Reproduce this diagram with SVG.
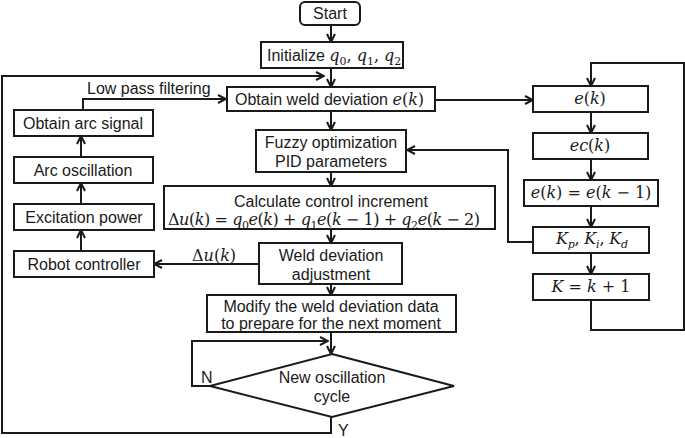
<svg xmlns="http://www.w3.org/2000/svg" width="685" height="438" viewBox="0 0 685 438">
<style>
.b{fill:#fff;stroke:#1a1a1a;stroke-width:2}
.l{fill:none;stroke:#1a1a1a;stroke-width:2}
.t{font-family:"Liberation Sans",Arial,sans-serif;font-size:16px;fill:#1a1a1a;text-anchor:middle}
.ts{font-family:"Liberation Sans",Arial,sans-serif;font-size:16px;fill:#1a1a1a}
.m{font-family:"DejaVu Serif","Liberation Serif",serif;font-size:16px;fill:#1a1a1a}
.i{font-style:italic}
.s{font-size:11px;font-style:normal}
.si{font-size:11px;font-style:italic}
</style>
<defs>
<marker id="a" viewBox="0 0 10 10" refX="9" refY="5" markerWidth="10" markerHeight="10" markerUnits="userSpaceOnUse" orient="auto">
<path d="M1,1 L9,5 L1,9" fill="none" stroke="#1a1a1a" stroke-width="2"/>
</marker>
</defs>

<g id="connectors">
<line class="l" x1="331" y1="25" x2="331" y2="42" marker-end="url(#a)"/>
<line class="l" x1="331" y1="68" x2="331" y2="87" marker-end="url(#a)"/>
<line class="l" x1="331" y1="111" x2="331" y2="130" marker-end="url(#a)"/>
<line class="l" x1="331" y1="172" x2="331" y2="186" marker-end="url(#a)"/>
<line class="l" x1="331" y1="229" x2="331" y2="243" marker-end="url(#a)"/>
<line class="l" x1="331" y1="284" x2="331" y2="295" marker-end="url(#a)"/>
<line class="l" x1="331" y1="332" x2="331" y2="354" marker-end="url(#a)"/>
<polyline class="l" points="331,417 331,433 2,433 2,76 324,76" marker-end="url(#a)"/>
<polyline class="l" points="210,386 192,386 192,341 328,341" marker-end="url(#a)"/>
<polyline class="l" points="83,110 83,99 226,99" marker-end="url(#a)"/>
<line class="l" x1="259" y1="264" x2="154" y2="264" marker-end="url(#a)"/>
<line class="l" x1="81" y1="251" x2="81" y2="230" marker-end="url(#a)"/>
<line class="l" x1="81" y1="204" x2="81" y2="183" marker-end="url(#a)"/>
<line class="l" x1="81" y1="157" x2="81" y2="136" marker-end="url(#a)"/>
<line class="l" x1="435" y1="100" x2="533" y2="100" marker-end="url(#a)"/>
<line class="l" x1="591" y1="112" x2="591" y2="133" marker-end="url(#a)"/>
<line class="l" x1="591" y1="159" x2="591" y2="180" marker-end="url(#a)"/>
<line class="l" x1="591" y1="206" x2="591" y2="227" marker-end="url(#a)"/>
<line class="l" x1="591" y1="253" x2="591" y2="274" marker-end="url(#a)"/>
<polyline class="l" points="591,300 591,330 684,330 684,63 591,63 591,86" marker-end="url(#a)"/>
<polyline class="l" points="533,242 508,242 508,150 407,150" marker-end="url(#a)"/>
<text class="ts" x="87" y="94">Low pass filtering</text>
<text class="m" x="192" y="261"><tspan>Δ</tspan><tspan class="i">u</tspan>(<tspan class="i">k</tspan>)</text>
<text class="ts" x="201" y="383">N</text>
<text class="ts" x="338" y="436">Y</text>
</g>

<g id="start">
<rect class="b" x="300" y="2" width="60" height="23" rx="5"/>
<text class="t" x="330" y="19">Start</text>
</g>

<g id="init">
<rect class="b" x="261" y="42" width="142" height="26"/>
<text x="267" y="61"><tspan class="ts">Initialize </tspan><tspan class="m i">q</tspan><tspan class="m s" dy="4">0</tspan><tspan class="m" dy="-4">, </tspan><tspan class="m i">q</tspan><tspan class="m s" dy="4">1</tspan><tspan class="m" dy="-4">, </tspan><tspan class="m i">q</tspan><tspan class="m s" dy="4">2</tspan></text>
</g>

<g id="obtain-weld">
<rect class="b" x="227" y="87" width="208" height="24"/>
<text x="235" y="105"><tspan class="ts">Obtain weld deviation </tspan><tspan class="m i">e</tspan><tspan class="m">(</tspan><tspan class="m i">k</tspan><tspan class="m">)</tspan></text>
</g>

<g id="fuzzy">
<rect class="b" x="256" y="130" width="150" height="42"/>
<text class="t" x="331" y="148">Fuzzy optimization</text>
<text class="t" x="331" y="167">PID parameters</text>
</g>

<g id="calc">
<rect class="b" x="164" y="186" width="331" height="43"/>
<text class="t" x="331" y="207">Calculate control increment</text>
<text class="m" x="168" y="225" textLength="312"><tspan>Δ</tspan><tspan class="i">u</tspan>(<tspan class="i">k</tspan>) = <tspan class="i">q</tspan><tspan class="s" dy="4">0</tspan><tspan class="i" dy="-4">e</tspan>(<tspan class="i">k</tspan>) + <tspan class="i">q</tspan><tspan class="s" dy="4">1</tspan><tspan class="i" dy="-4">e</tspan>(<tspan class="i">k</tspan> − 1) + <tspan class="i">q</tspan><tspan class="s" dy="4">2</tspan><tspan class="i" dy="-4">e</tspan>(<tspan class="i">k</tspan> − 2)</text>
</g>

<g id="weld-adjust">
<rect class="b" x="259" y="243" width="143" height="41"/>
<text class="t" x="331" y="261">Weld deviation</text>
<text class="t" x="331" y="280">adjustment</text>
</g>

<g id="modify">
<rect class="b" x="207" y="295" width="249" height="37"/>
<text class="t" x="331" y="312">Modify the weld deviation data</text>
<text class="t" x="331" y="329">to prepare for the next moment</text>
</g>

<g id="decision">
<polygon class="b" points="332,354 454,386 332,417 210,386"/>
<text class="t" x="332" y="383">New oscillation</text>
<text class="t" x="332" y="402">cycle</text>
</g>

<g id="arc-signal">
<rect class="b" x="14" y="110" width="139" height="26"/>
<text class="t" x="83" y="129">Obtain arc signal</text>
</g>
<g id="arc-osc">
<rect class="b" x="14" y="157" width="139" height="26"/>
<text class="t" x="83" y="176">Arc oscillation</text>
</g>
<g id="excitation">
<rect class="b" x="14" y="204" width="140" height="26"/>
<text class="t" x="84" y="223">Excitation power</text>
</g>
<g id="robot">
<rect class="b" x="14" y="251" width="140" height="26"/>
<text class="t" x="84" y="270">Robot controller</text>
</g>

<g id="ek">
<rect class="b" x="533" y="86" width="115" height="26"/>
<text class="m" x="590" y="104" text-anchor="middle"><tspan class="i">e</tspan>(<tspan class="i">k</tspan>)</text>
</g>
<g id="eck">
<rect class="b" x="533" y="133" width="115" height="26"/>
<text class="m" x="590" y="151" text-anchor="middle"><tspan class="i">ec</tspan>(<tspan class="i">k</tspan>)</text>
</g>
<g id="ek-eq">
<rect class="b" x="524" y="180" width="134" height="26"/>
<text class="m" x="591" y="198" text-anchor="middle"><tspan class="i">e</tspan>(<tspan class="i">k</tspan>) = <tspan class="i">e</tspan>(<tspan class="i">k</tspan> − 1)</text>
</g>
<g id="kpid">
<rect class="b" x="533" y="227" width="116" height="26"/>
<text class="m" x="556" y="244" textLength="72"><tspan class="i">K</tspan><tspan class="si" dy="4">p</tspan><tspan dy="-4">, </tspan><tspan class="i">K</tspan><tspan class="si" dy="4">i</tspan><tspan dy="-4">, </tspan><tspan class="i">K</tspan><tspan class="si" dy="4">d</tspan></text>
</g>
<g id="kinc">
<rect class="b" x="533" y="274" width="116" height="26"/>
<text class="m" x="591" y="292" text-anchor="middle"><tspan class="i">K</tspan> = <tspan class="i">k</tspan> + 1</text>
</g>
</svg>
